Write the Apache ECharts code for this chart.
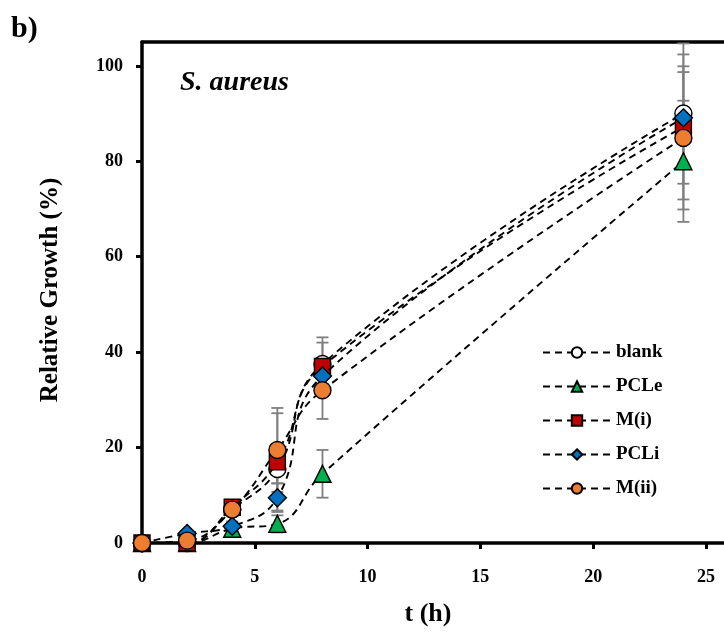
<!DOCTYPE html>
<html>
<head>
<meta charset="utf-8">
<script src="https://cdn.jsdelivr.net/npm/echarts@6/dist/echarts.min.js"></script>
<style>html,body{margin:0;padding:0;background:#fff;}#c{width:724px;height:637px;}</style>
</head>
<body>
<div id="c"></div>
<script>
// ---- data ----
const times = [0, 2, 4, 6, 8, 24];
const seriesNames = ['blank', 'PCLe', 'M(i)', 'PCLi', 'M(ii)'];
const blankVals = [0, 0, 7, 15.5, 37.5, 90];
const pcleVals  = [0, 0, 3, 4, 14.5, 80];
const miVals    = [0, 0, 7.5, 17, 37, 87.2];
const pcliVals  = [0, 2, 3.5, 9.5, 35, 89.1];
const miiVals   = [0, 0.5, 7, 19.5, 32, 84.9];
const blankErr = [0, 0, 1, 3, 5.6, 14.7];
const pcleErr  = [0, 0, 0.8, 1.8, 5, 12.7];
const miErr    = [0, 0, 1, 10.2, 5, 15.2];
const pcliErr  = [0, 0.5, 1, 3, 3, 9.6];
const miiErr   = [0, 0.5, 1, 8.8, 6, 15];
const xTicks = [0, 5, 10, 15, 20, 25];
const yTicks = [0, 20, 40, 60, 80, 100];

const allVals = [blankVals, pcleVals, miVals, pcliVals, miiVals];
const allErr = [blankErr, pcleErr, miErr, pcliErr, miiErr];
const colors = ['#ffffff', '#00B050', '#C00000', '#0070C0', '#ED7D31'];
const symbols = ['circle', 'triangle', 'rect', 'diamond', 'circle'];
const sizes = [17, 17, 16, 18, 17];

const FONT = 'Liberation Serif';
const chart = echarts.init(document.getElementById('c'));

const series = [];
// error bars
allVals.forEach((vals, i) => {
  series.push({
    type: 'custom',
    name: seriesNames[i] + '_err',
    z: 1,
    clip: false,
    data: times.map((t, k) => [t, vals[k] - allErr[i][k], vals[k] + allErr[i][k]]),
    renderItem: function (params, api) {
      const x = api.value(0), lo = api.value(1), hi = api.value(2);
      if (hi - lo < 0.01) return null;
      const p1 = api.coord([x, hi]);
      const p2 = api.coord([x, lo]);
      const w = 6;
      const st = { stroke: '#7f7f7f', lineWidth: 1.8 };
      return {
        type: 'group',
        children: [
          { type: 'line', shape: { x1: p1[0], y1: p1[1], x2: p2[0], y2: p2[1] }, style: st },
          { type: 'line', shape: { x1: p1[0] - w, y1: p1[1], x2: p1[0] + w, y2: p1[1] }, style: st },
          { type: 'line', shape: { x1: p2[0] - w, y1: p2[1], x2: p2[0] + w, y2: p2[1] }, style: st }
        ]
      };
    }
  });
});
allVals.forEach((vals, i) => {
  series.push({
    type: 'line',
    name: seriesNames[i],
    z: 3 + i,
    smooth: 0.45,
    data: times.map((t, k) => [t, vals[k]]),
    symbol: symbols[i],
    symbolSize: sizes[i],
    showAllSymbol: true,
    clip: false,
    lineStyle: { color: '#000', width: 1.9, type: [7, 5] },
    itemStyle: { color: colors[i], borderColor: '#000', borderWidth: 1.4 },
    emphasis: { disabled: true }
  });
});

chart.setOption({
  animation: false,
  backgroundColor: '#fff',
  grid: { left: 142, top: 42, right: 0, bottom: 94 },
  xAxis: [{
    type: 'value', min: 0, max: 25.8, interval: 5,
    axisLine: { show: true, lineStyle: { color: '#000', width: 3.5 } },
    axisTick: { show: true, inside: false, length: 6, lineStyle: { color: '#000', width: 3 }, customValues: xTicks },
    axisLabel: { customValues: xTicks, margin: 25, fontFamily: FONT, fontWeight: 'bold', fontSize: 18, color: '#000' },
    splitLine: { show: false }
  }, {
    type: 'value', position: 'top', min: 0, max: 25.8,
    axisLine: { show: true, onZero: false, lineStyle: { color: '#000', width: 3.5 } },
    axisTick: { show: false }, axisLabel: { show: false }, splitLine: { show: false }
  }],
  yAxis: [{
    type: 'value', min: 0, max: 105, interval: 20,
    axisLine: { show: true, lineStyle: { color: '#000', width: 3.5 } },
    axisTick: { show: true, inside: false, length: 6, lineStyle: { color: '#000', width: 3 }, customValues: yTicks },
    axisLabel: { customValues: yTicks, margin: 19, fontFamily: FONT, fontWeight: 'bold', fontSize: 18, color: '#000' },
    splitLine: { show: false }
  }],
  legend: {
    data: seriesNames,
    orient: 'vertical',
    left: 537, top: 338,
    itemWidth: 68, itemHeight: 13, itemGap: 15,
    textStyle: { fontFamily: FONT, fontWeight: 'bold', fontSize: 19, color: '#000' },
    selectedMode: false
  },
  graphic: [
    { type: 'text', left: 11, top: 14, style: { text: 'b)', fontFamily: FONT, fontWeight: 'bold', fontSize: 30, fill: '#000' } },
    { type: 'text', left: 180, top: 69, style: { text: 'S. aureus', fontFamily: FONT, fontWeight: 'bold', fontStyle: 'italic', fontSize: 28, fill: '#000' } },
    { type: 'text', x: 51, y: 290, rotation: Math.PI / 2, style: { text: 'Relative Growth (%)', fontFamily: FONT, fontWeight: 'bold', fontSize: 25, fill: '#000', align: 'center', verticalAlign: 'middle' } },
    { type: 'text', x: 428, y: 614, style: { text: 't (h)', fontFamily: FONT, fontWeight: 'bold', fontSize: 26, fill: '#000', align: 'center', verticalAlign: 'middle' } }
  ],
  series: series
});
</script>
</body>
</html>
